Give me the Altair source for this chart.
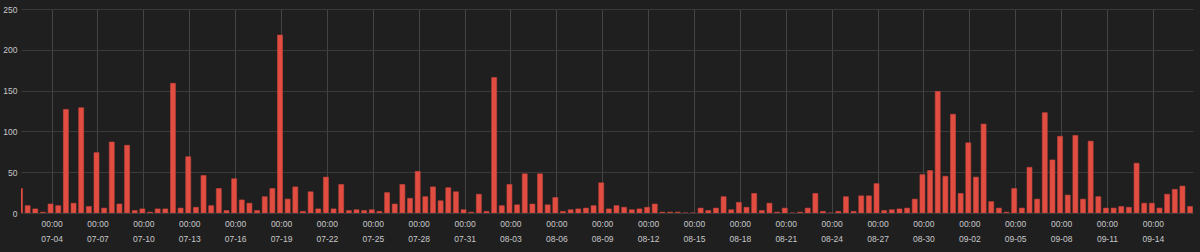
import altair as alt
import pandas as pd

# 12-hour buckets starting 07-02 00:00 (UTC)
start = "2023-07-02T00:00:00Z"
values = [
    30, 9, 5, 1, 11, 9, 127, 12, 129, 8, 74, 6, 87, 11, 83, 3, 5, 1, 5, 5,
    159, 6, 69, 7, 46, 9, 30, 3, 42, 16, 12, 3, 20, 30, 218, 17, 32, 2, 26, 5,
    44, 5, 35, 3, 4, 3, 4, 2, 25, 11, 35, 18, 51, 20, 32, 15, 31, 26, 4, 1,
    23, 2, 166, 9, 35, 10, 48, 11, 48, 10, 19, 2, 4, 5, 6, 9, 37, 5, 9, 7,
    4, 5, 7, 11, 1, 1, 1, 0, 0, 6, 3, 6, 20, 4, 13, 7, 24, 3, 12, 1,
    6, 0, 1, 6, 24, 2, 0, 2, 20, 2, 21, 21, 36, 3, 4, 5, 6, 17, 47, 52,
    149, 45, 121, 24, 86, 44, 109, 14, 6, 1, 30, 6, 56, 17, 123, 65, 94, 22, 95, 17,
    88, 20, 6, 6, 8, 7, 61, 12, 12, 6, 23, 29, 33, 8,
]
tick_days = [
    (7, 4), (7, 7), (7, 10), (7, 13), (7, 16), (7, 19), (7, 22), (7, 25), (7, 28), (7, 31),
    (8, 3), (8, 6), (8, 9), (8, 12), (8, 15), (8, 18), (8, 21), (8, 24), (8, 27), (8, 30),
    (9, 2), (9, 5), (9, 8), (9, 11), (9, 14),
]
y_ticks = [0, 50, 100, 150, 200, 250]

times = pd.date_range(start=pd.Timestamp(start), periods=len(values), freq="12h")
df = pd.DataFrame({
    "t": [t.strftime("%Y-%m-%dT%H:%M:%SZ") for t in times],
    "v": values,
})

text_color = "#c7c8ca"

x = alt.X(
    "t:T",
    scale=alt.Scale(
        type="utc",
        padding=0,
        domain=[alt.DateTime(year=2023, month=7, date=2, hours=0, utc=True),
                alt.DateTime(year=2023, month=9, date=16, hours=15, utc=True)],
    ),
    axis=alt.Axis(
        values=[alt.DateTime(year=2023, month=m, date=d, utc=True) for m, d in tick_days],
        labelExpr="[utcFormat(datum.value, '%H:%M'), utcFormat(datum.value, '%m-%d')]",
        title=None,
        domain=False,
        ticks=False,
        grid=True,
        gridColor="#444444",
        gridWidth=1,
        labelColor=text_color,
        labelFont="Liberation Sans",
        labelFontSize=8.5,
        labelLineHeight=15,
        labelPadding=6,
        labelAngle=0,
        labelOverlap=False,
    ),
)

y = alt.Y(
    "v:Q",
    scale=alt.Scale(domain=[0, 250], nice=False),
    axis=alt.Axis(
        values=y_ticks,
        title=None,
        domain=False,
        ticks=False,
        grid=True,
        gridColor="#3a3a3a",
        gridWidth=1,
        labelColor=text_color,
        labelFont="Liberation Sans",
        labelFontSize=8.5,
        labelPadding=4,
    ),
)

chart = (
    alt.Chart(df)
    .mark_bar(size=5, color="#e24d42", stroke="#c9443b", strokeWidth=0.6, clip=True, xOffset=-1)
    .encode(x=x, y=y)
    .properties(
        width=1172,
        height=204,
        background="#1f1f1f",
        padding={"left": 21, "top": 9, "right": 7, "bottom": 39},
        autosize=alt.AutoSizeParams(type="none"),
    )
    .configure_view(stroke=None)
)

chart.save("out.html", embed_options={"renderer": "svg", "actions": False})
